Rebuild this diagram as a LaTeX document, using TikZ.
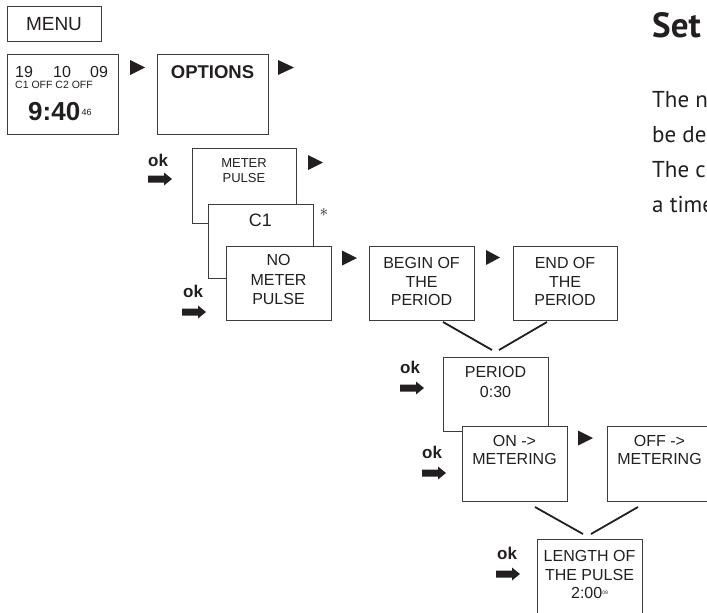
\documentclass[tikz,border=0pt]{standalone}
\usepackage{fontspec}
\setmainfont{Liberation Sans}
\newfontfamily\ptsans{PT Sans}
\usepackage{tikz}
\usetikzlibrary{positioning}
\definecolor{ink}{HTML}{231F20}
\definecolor{boxgray}{HTML}{3C3C3C}
\tikzset{lcdbox/.style={draw=boxgray, fill=white, line width=0.9pt, anchor=north west, inner sep=0pt, minimum width=105pt, minimum height=75pt},
  txt/.style={anchor=base, align=center, inner sep=0pt, text=ink, font=\fontsize{16}{18.5}\selectfont},
  oktxt/.style={anchor=base west, inner sep=0pt, text=ink, font=\bfseries\fontsize{17}{17}\selectfont},
  vline/.style={draw=ink, line width=1.8pt}}

\begin{document}
\begin{tikzpicture}[x=1pt,y=-1pt]
\useasboundingbox (0,0) rectangle (707,613);
\clip (0,0) rectangle (707,613);

\node [lcdbox, minimum width=94pt, minimum height=35pt] (menu) at (7,6) {};
\node [txt, font=\fontsize{19}{19}\selectfont] (menutxt) at (54,30) {MENU};

\node [lcdbox, minimum width=111pt, minimum height=80pt] (clock) at (7,54) {};
\node [txt, anchor=base west] (day) at (15,77) {19};
\node [txt, anchor=base west] (month) at (53,77) {10};
\node [txt, anchor=base west] (year) at (90,77) {09};
\node [txt, anchor=base west, font=\fontsize{10.5}{10.5}\selectfont] (chstate) at (15,88) {C1 OFF C2 OFF};
\node [txt, anchor=base west, font=\bfseries\fontsize{26}{26}\selectfont] (clocktime) at (28,120) {9:40};
\node [txt, anchor=base west, font=\fontsize{9}{9}\selectfont] (secs) at ([xshift=1pt, yshift=4.5pt]clocktime.base east) {46};

\node [lcdbox, minimum width=111pt, minimum height=80pt] (options) at (157,54) {};
\node [txt, font=\bfseries\fontsize{18.5}{20}\selectfont] (optionstxt) at (212.5,78.5) {OPTIONS};

% stacked boxes
\node [lcdbox, minimum width=104pt] (meter) at (192,148) {};
\node [txt, font=\fontsize{13}{15}\selectfont] (metertxt) at (244,182.7) {METER\\PULSE};
\node [lcdbox, minimum height=74pt] (cone) at (208,204) {};
\node [txt, font=\fontsize{18}{18}\selectfont] (conetxt) at (260.5,226.5) {C1};
\node [text=ink, inner sep=0pt, font=\fontsize{17}{17}\selectfont] (star) at (324,212) {$\ast$};
\node [lcdbox, minimum height=74pt] (nometer) at (226,246) {};
\node [txt, font=\fontsize{16}{19.5}\selectfont] (nometertxt) at (278.5,304.7) {NO\\METER\\PULSE};

\node [lcdbox, minimum height=74pt] (begin) at (369,246) {};
\node [txt] (begintxt) at (421.5,305.7) {BEGIN OF\\THE\\PERIOD};
\node [lcdbox, minimum width=104pt, minimum height=74pt] (end) at (513,246) {};
\node [txt] (endtxt) at (565,305.7) {END OF\\THE\\PERIOD};

\node [lcdbox, minimum height=74pt] (period) at (443,357) {};
\node [txt, font=\fontsize{16}{20}\selectfont] (periodtxt) at (495.5,397.7) {PERIOD\\0:30};
\node [lcdbox] (on) at (462,426) {};
\node [txt, font=\fontsize{16}{18}\selectfont] (ontxt) at (514.5,464.7) {ON ->\\METERING};
\node [lcdbox] (off) at (607,426) {};
\node [txt, font=\fontsize{16}{18}\selectfont] (offtxt) at (659.5,464.7) {OFF ->\\METERING};

\node [lcdbox] (length) at (537,539) {};
\node [txt] (lengthtxt) at (589.5,598.7) {LENGTH OF\\THE PULSE\\2:00\raisebox{4pt}{\fontsize{5}{5}\selectfont 09}};

% V joins
\coordinate (beginfoot) at (443,322);
\coordinate (endfoot) at (547,322);
\coordinate (periodhead) at (492,350);
\coordinate (periodhead2) at (499,350);
\draw [vline] (beginfoot) -- (periodhead);
\draw [vline] (endfoot) -- (periodhead2);
\coordinate (onfoot) at (535,507);
\coordinate (offfoot) at (638,507);
\coordinate (lengthhead) at (583,534);
\coordinate (lengthhead2) at (591,534);
\draw [vline] (onfoot) -- (lengthhead);
\draw [vline] (offfoot) -- (lengthhead2);

% next triangles
\fill [ink] (130,60) -- (145,67.5) -- (130,75) -- cycle;
\fill [ink] (278,60) -- (294,67.5) -- (278,75) -- cycle;
\fill [ink] (308,155) -- (323,162.5) -- (308,170) -- cycle;
\fill [ink] (342,250.5) -- (357,258) -- (342,265.5) -- cycle;
\fill [ink] (486,250) -- (500,257.5) -- (486,265) -- cycle;
\fill [ink] (578,430.5) -- (593,438) -- (578,445.5) -- cycle;

% ok arrows
\node [oktxt] (okmeter) at (148,166) {ok};
\node [oktxt] (oknometer) at (183,297) {ok};
\node [oktxt] (okperiod) at (400,373) {ok};
\node [oktxt] (okon) at (422,458) {ok};
\node [oktxt] (oklength) at (497,559) {ok};
\foreach \ax/\ay in {148/179, 182/312, 400/388, 422/473, 496/574}
  \fill [ink] (\ax,\ay-3.5) -- ++(16,0) -- ++(0,-3) -- ++(8,6.5) -- ++(-8,6.5) -- ++(0,-3) -- ++(-16,0) -- cycle;

\node [anchor=base west, inner sep=0pt, text=ink, font=\ptsans\bfseries\fontsize{35}{35}\selectfont] (heading) at (652,37) {Set};
\node [anchor=base west, align=left, inner sep=0pt, text=ink, font=\ptsans\fontsize{23}{35}\selectfont] (intro) at (652,212) {The no\\be de\\The ch\\a time};
\end{tikzpicture}
\end{document}
